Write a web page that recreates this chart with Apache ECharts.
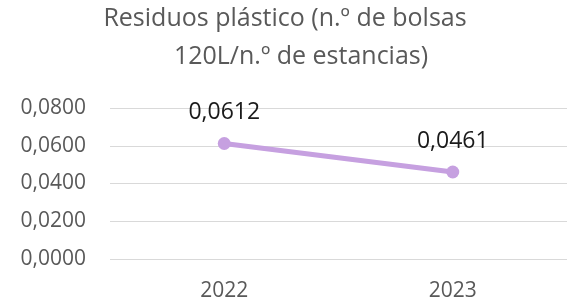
<!DOCTYPE html>
<html>
<head>
<meta charset="utf-8">
<script src="https://cdn.jsdelivr.net/npm/echarts@6/dist/echarts.min.js"></script>
<style>
  html, body { margin: 0; padding: 0; background: #fff; }
  #chart { width: 569px; height: 305px; }
</style>
</head>
<body>
<div id="chart"></div>
<script>
var years = ['2022', '2023'];
var bolsasPorEstancia = [0.0612, 0.0461];
var yTicks = [0, 0.02, 0.04, 0.06, 0.08];
var titleLines = ['Residuos plástico (n.º de bolsas', '120L/n.º de estancias)'];

function fmt(v) {
  return v.toFixed(4).replace('.', ',');
}

var titleStyle = {
  fontFamily: 'Open Sans',
  fontSize: 25,
  fontWeight: 'normal',
  color: '#595959'
};

var chart = echarts.init(document.getElementById('chart'));
chart.setOption({
  animation: false,
  title: [
    { text: titleLines[0], left: 280, textAlign: 'center', top: 1, textStyle: titleStyle },
    { text: titleLines[1], left: 296, textAlign: 'center', top: 39, textStyle: titleStyle }
  ],
  grid: {
    left: 110,
    right: 2,
    top: 108,
    bottom: 46
  },
  xAxis: {
    type: 'category',
    data: years,
    boundaryGap: true,
    axisLine: { show: false },
    axisTick: { show: false },
    axisLabel: {
      color: '#595959',
      fontFamily: 'Open Sans',
      fontSize: 21,
      margin: 22
    }
  },
  yAxis: {
    type: 'value',
    min: yTicks[0],
    max: yTicks[yTicks.length - 1],
    interval: 0.02,
    axisLine: { show: false },
    axisTick: { show: false },
    splitLine: { lineStyle: { color: '#d9d9d9', width: 1 } },
    axisLabel: {
      color: '#595959',
      fontFamily: 'Open Sans',
      fontSize: 21,
      margin: 24,
      formatter: fmt
    }
  },
  series: [{
    type: 'line',
    data: bolsasPorEstancia,
    symbol: 'circle',
    symbolSize: 13,
    lineStyle: { color: '#c6a0e0', width: 5 },
    itemStyle: { color: '#c6a0e0' },
    label: {
      show: true,
      position: 'top',
      distance: 13,
      color: '#1a1a1a',
      fontFamily: 'Open Sans',
      fontSize: 23,
      formatter: function (p) { return fmt(p.value); }
    }
  }]
});
</script>
</body>
</html>
